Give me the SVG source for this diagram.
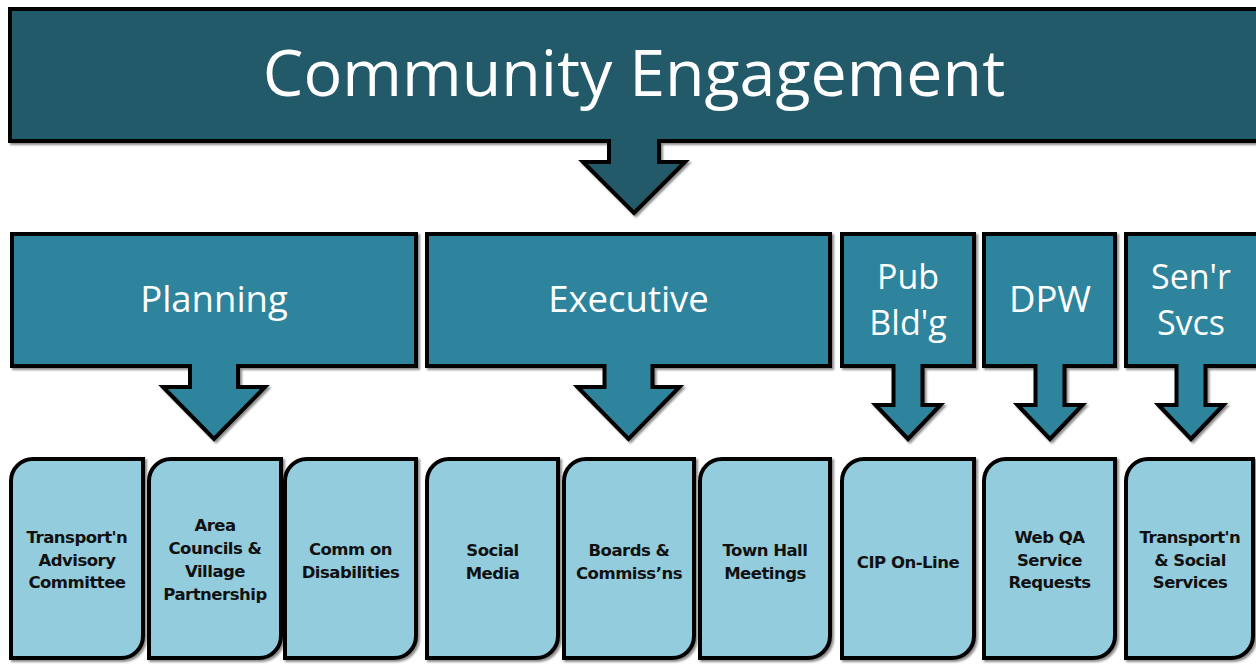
<svg xmlns="http://www.w3.org/2000/svg" width="1256" height="664" viewBox="0 0 1256 664">
<defs>
<filter id="sh" x="-5%" y="-5%" width="110%" height="115%">
<feDropShadow dx="2" dy="2" stdDeviation="1.2" flood-color="#000" flood-opacity="0.45"/>
</filter>
</defs>
<style>
.shape{stroke:#000;stroke-width:4;stroke-linejoin:miter;stroke-miterlimit:10;filter:url(#sh)}
.dark{fill:#245A69}
.mid{fill:#2F849C}
.light{fill:#93CCDD}
.big{font-family:"Open Sans",Lato,sans-serif;fill:#fff;text-anchor:middle}
.title{font-size:64.5px}
.head{font-size:36.5px}
.head2{font-size:34px}
.lbl{font-family:"DejaVu Sans",Verdana,sans-serif;font-weight:bold;font-size:16.5px;letter-spacing:-0.5px;fill:#111;text-anchor:middle}
</style>
<rect width="1256" height="664" fill="#fff"/>
<g id="connectors"></g>
<g id="community-engagement">
<path class="shape dark" d="M10,9 H1262 V141 H659 V162 H685 L634,213 L583,162 H609 V141 H10 Z"/>
<text class="big title" x="634" y="96">Community Engagement</text>
</g>
<g id="planning">
<path class="shape mid" d="M12,234 H416 V366 H238 V387 H265 L214,439 L163,387 H190 V366 H12 Z"/>
<text class="big head" x="214" y="312">Planning</text>
</g>
<g id="executive">
<path class="shape mid" d="M427,234 H830 V366 H652.5 V387 H679.5 L628.5,439 L577.5,387 H604.5 V366 H427 Z"/>
<text class="big head" x="628.5" y="312">Executive</text>
</g>
<g id="pub-bldg">
<path class="shape mid" d="M842,234 H974 V366 H922.5 V405 H940.5 L908,439 L875.5,405 H893.5 V366 H842 Z"/>
<text class="big head2"><tspan x="908" y="288.5">Pub</tspan><tspan x="908" y="335">Bld'g</tspan></text>
</g>
<g id="dpw">
<path class="shape mid" d="M984,234 H1115 V366 H1064.5 V405 H1082.5 L1050,439 L1017.5,405 H1035.5 V366 H984 Z"/>
<text class="big head" x="1050" y="312">DPW</text>
</g>
<g id="senr-svcs">
<path class="shape mid" d="M1126,234 H1262 V366 H1205.5 V405 H1223.5 L1191,439 L1158.5,405 H1176.5 V366 H1126 Z"/>
<text class="big head2"><tspan x="1191" y="288.5">Sen'r</tspan><tspan x="1191" y="335">Svcs</tspan></text>
</g>
<g id="transport-advisory">
<path class="shape light" d="M33,459 H143 V636 A22,22 0 0 1 121,658 H11 V481 A22,22 0 0 1 33,459 Z"/>
<text class="lbl"><tspan x="77" y="543">Transport'n</tspan><tspan x="77" y="566">Advisory</tspan><tspan x="77" y="588">Committee</tspan></text>
</g>
<g id="area-councils">
<path class="shape light" d="M171,459 H281 V636 A22,22 0 0 1 259,658 H149 V481 A22,22 0 0 1 171,459 Z"/>
<text class="lbl"><tspan x="215" y="531">Area</tspan><tspan x="215" y="554">Councils &amp;</tspan><tspan x="215" y="577">Village</tspan><tspan x="215" y="600">Partnership</tspan></text>
</g>
<g id="comm-disabilities">
<path class="shape light" d="M307,459 H416 V636 A22,22 0 0 1 394,658 H285 V481 A22,22 0 0 1 307,459 Z"/>
<text class="lbl"><tspan x="350.5" y="555">Comm on</tspan><tspan x="350.5" y="578">Disabilities</tspan></text>
</g>
<g id="social-media">
<path class="shape light" d="M449,459 H558 V636 A22,22 0 0 1 536,658 H427 V481 A22,22 0 0 1 449,459 Z"/>
<text class="lbl"><tspan x="492.5" y="556">Social</tspan><tspan x="492.5" y="579">Media</tspan></text>
</g>
<g id="boards-commissions">
<path class="shape light" d="M586,459 H694 V636 A22,22 0 0 1 672,658 H564 V481 A22,22 0 0 1 586,459 Z"/>
<text class="lbl"><tspan x="629" y="556">Boards &amp;</tspan><tspan x="629" y="579">Commiss’ns</tspan></text>
</g>
<g id="town-hall">
<path class="shape light" d="M722,459 H830 V636 A22,22 0 0 1 808,658 H700 V481 A22,22 0 0 1 722,459 Z"/>
<text class="lbl"><tspan x="765" y="556">Town Hall</tspan><tspan x="765" y="579">Meetings</tspan></text>
</g>
<g id="cip-online">
<path class="shape light" d="M864,459 H974 V636 A22,22 0 0 1 952,658 H842 V481 A22,22 0 0 1 864,459 Z"/>
<text class="lbl" x="908" y="568">CIP On-Line</text>
</g>
<g id="web-qa">
<path class="shape light" d="M1006,459 H1115 V636 A22,22 0 0 1 1093,658 H984 V481 A22,22 0 0 1 1006,459 Z"/>
<text class="lbl"><tspan x="1049.5" y="543">Web QA</tspan><tspan x="1049.5" y="566">Service</tspan><tspan x="1049.5" y="588">Requests</tspan></text>
</g>
<g id="transport-social">
<path class="shape light" d="M1148,459 H1253 V636 A22,22 0 0 1 1231,658 H1126 V481 A22,22 0 0 1 1148,459 Z"/>
<text class="lbl"><tspan x="1190" y="543">Transport'n</tspan><tspan x="1190" y="566">&amp; Social</tspan><tspan x="1190" y="588">Services</tspan></text>
</g>
</svg>
